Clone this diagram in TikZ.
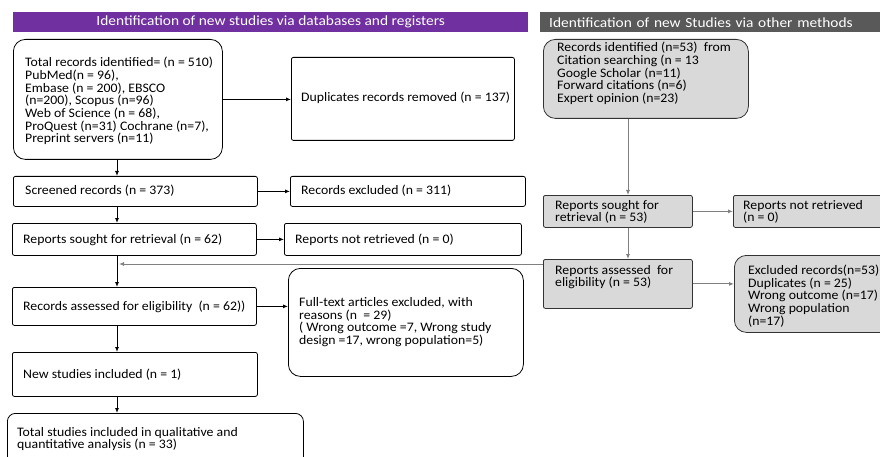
\documentclass[tikz,border=0pt]{standalone}
\usepackage{fontspec}
\setmainfont[FakeStretch=1.06]{Carlito}
\newfontfamily\hfont[FakeStretch=1.1]{Carlito}
\usetikzlibrary{arrows.meta}
\definecolor{hpurple}{HTML}{7030A0}
\definecolor{hgray}{HTML}{595959}
\definecolor{bfill}{HTML}{D9D9D9}
\definecolor{agray}{HTML}{808080}
\begin{document}
\begin{tikzpicture}[x=1pt,y=-1pt,
  box/.style={draw=black, line width=0.8pt, rounded corners=2pt, inner sep=0pt, anchor=north west},
  rbox/.style={box, rounded corners=12pt},
  gbox/.style={box, fill=bfill, draw=black!80},
  rgbox/.style={gbox, rounded corners=12pt},
  txt/.style={font=\fontsize{13}{12.7}\selectfont, align=left, anchor=west, inner sep=0pt},
  hdr/.style={anchor=north west, inner sep=0pt, minimum height=20pt, text=white, font=\hfont\fontsize{14}{14}\selectfont},
  arr/.style={-{Latex[length=5pt,width=4pt]}, line width=0.9pt},
  garr/.style={-{Latex[length=5pt,width=4pt]}, line width=0.9pt, draw=agray, color=agray}]
\useasboundingbox (0,0) rectangle (880,457);
\clip (0,0) rectangle (880,457);
\fill[white] (0,0) rectangle (880,457);
% headers
\node[hdr, fill=hpurple, minimum width=515pt] (h1) at (13,12) {Identification of new studies via databases and registers};
\node[hdr, fill=hgray, text width=329pt, inner xsep=9pt, align=left] (h2) at (540,12) {Identification of new Studies via other methods};
% left column boxes
\node[rbox, minimum width=209pt, minimum height=120pt] (tot) at (13,39) {};
\node[box, minimum width=223pt, minimum height=83pt] (dup) at (291,57) {};
\node[box, minimum width=244pt, minimum height=30pt] (scr) at (13,176) {};
\node[box, minimum width=235pt, minimum height=30pt] (rex) at (290,176) {};
\node[box, minimum width=244pt, minimum height=32pt] (rs) at (12,223) {};
\node[box, minimum width=237pt, minimum height=32pt] (rnr) at (284,223) {};
\node[box, minimum width=244pt, minimum height=38pt] (ra) at (12,287) {};
\node[rbox, minimum width=235pt, minimum height=108pt] (ft) at (288,268) {};
\node[box, minimum width=245pt, minimum height=44pt] (ns) at (12,352) {};
\node[box, rounded corners=8pt, minimum width=296pt, minimum height=60pt] (ts) at (7,413) {};
% left texts
\node[txt] (tot-t) at (25,101) {Total records identified= (n = 510)\\PubMed(n = 96),\\Embase (n = 200), EBSCO\\(n=200), Scopus (n=96)\\Web of Science (n = 68),\\ProQuest (n=31) Cochrane (n=7),\\Preprint servers (n=11)};
\node[txt] (dup-t) at (301,98) {Duplicates records removed (n = 137)};
\node[txt] (scr-t) at (25,191) {Screened records (n = 373)};
\node[txt] (rex-t) at (301,191) {Records excluded (n = 311)};
\node[txt] (rs-t) at (23,240) {Reports sought for retrieval (n = 62)};
\node[txt] (rnr-t) at (295,240) {Reports not retrieved (n = 0)};
\node[txt] (ra-t) at (23,307) {Records assessed for eligibility~ (n = 62))};
\node[txt] (ft-t) at (299,322) {Full-text articles excluded, with\\reasons (n~ = 29)\\( Wrong outcome =7, Wrong study\\design =17, wrong population=5)};
\node[txt] (ns-t) at (23,375) {New studies included (n = 1)};
\node[txt] (ts-t) at (17,439) {Total studies included in qualitative and\\quantitative analysis (n = 33)};
% right column boxes
\node[rgbox, minimum width=205pt, minimum height=79pt] (rid) at (543,39) {};
\node[gbox, minimum width=149pt, minimum height=32pt] (rs2) at (543,195) {};
\node[gbox, minimum width=160pt, minimum height=32pt] (nr2) at (733,195) {};
\node[gbox, minimum width=149pt, minimum height=49pt] (ra2) at (543,259) {};
\node[rgbox, minimum width=160pt, minimum height=77pt] (ex2) at (734,255) {};
% right texts
\node[txt] (rid-t) at (557,73.5) {Records identified (n=53)~ from\\Citation searching (n = 13\\Google Scholar (n=11)\\Forward citations (n=6)\\Expert opinion (n=23)};
\node[txt] (rs2-t) at (555,212) {Reports sought for\\retrieval (n = 53)};
\node[txt] (nr2-t) at (743,212) {Reports not retrieved\\(n = 0)};
\node[txt] (ra2-t) at (555,277) {Reports assessed~ for\\eligibility (n = 53)};
\node[txt] (ex2-t) at (748,296) {Excluded records(n=53)\\Duplicates (n = 25)\\Wrong outcome (n=17)\\Wrong population\\(n=17)};
% connectors left
\coordinate (spine) at (117,0);
\coordinate (gm) at (119,264);
\draw[arr] (tot.east) -- (tot.east -| dup.west);
\draw[arr] (tot.south -| spine) -- (scr.north -| spine);
\draw[arr] (scr.east) -- (scr.east -| rex.west);
\draw[arr] (scr.south -| spine) -- (rs.north -| spine);
\draw[arr] (rs.east) -- (rs.east -| rnr.west);
\draw[arr] (rs.south -| spine) -- (ra.north -| spine);
\draw[arr] (ra.east) -- (ra.east -| ft.west);
\draw[arr] (ra.south -| spine) -- (ns.north -| spine);
\draw[arr] (ns.south -| spine) -- (ts.north -| spine);
% connectors right
\coordinate (rx) at (628,0);
\draw[garr] (rid.south -| rx) -- (rs2.north -| rx);
\draw[garr] (rs2.east) -- (rs2.east -| nr2.west);
\draw[garr] (rs2.south -| rx) -- (ra2.north -| rx);
\draw[garr] (ra2.east) -- (ra2.east -| ex2.west);
\draw[garr] (ra2.west |- gm) -- (gm);
\end{tikzpicture}
\end{document}
